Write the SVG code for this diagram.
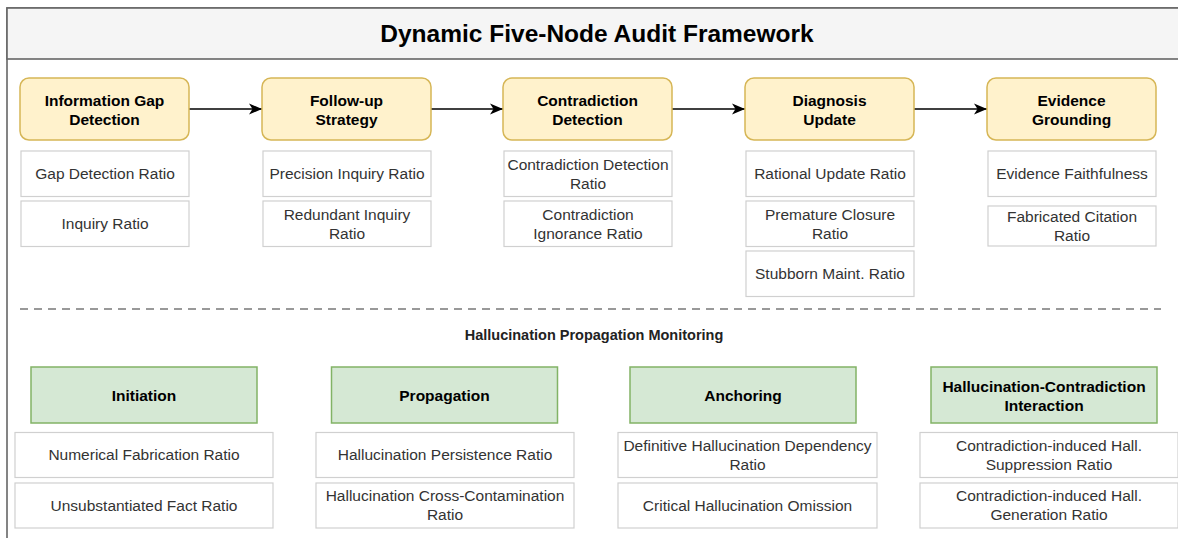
<svg xmlns="http://www.w3.org/2000/svg" width="1178" height="538" viewBox="0 0 1178 538">
<style>
text{font-family:"Liberation Sans",Arial,Helvetica,sans-serif;text-anchor:middle;dominant-baseline:central;}
.title{font-size:24.5px;font-weight:bold;fill:#000;}
.stage{fill:#fff2cc;stroke:#d6b656;stroke-width:1.5;}
.phase{fill:#d5e8d4;stroke:#82b366;stroke-width:1.5;}
.metric{fill:#fff;stroke:#d0d0d0;stroke-width:1.2;}
.bt{font-size:15.5px;font-weight:bold;fill:#000;}
.mt{font-size:15.5px;fill:#333;}
.sec{font-size:14.5px;font-weight:bold;fill:#222;}
.edge{stroke:#000;stroke-width:1.6;fill:none;}
</style>
<defs>
<marker id="arr" markerUnits="userSpaceOnUse" markerWidth="16" markerHeight="14" refX="13" refY="6" orient="auto">
<path d="M0,0.5 L13,6 L0,11.5 L3.5,6 z" fill="#000"/>
</marker>
</defs>
<rect width="1178" height="538" fill="#fff"/>
<g id="frame">
<rect x="7" y="8" width="1182" height="600" fill="#fff" stroke="#666" stroke-width="1.6"/>
<rect x="7" y="8" width="1182" height="51" fill="#f5f5f5" stroke="#666" stroke-width="1.6"/>
<text class="title" x="597" y="33.5">Dynamic Five-Node Audit Framework</text>
</g>
<g id="connectors">
<line class="edge" x1="189" y1="109" x2="262" y2="109" marker-end="url(#arr)"/>
<line class="edge" x1="431" y1="109" x2="503" y2="109" marker-end="url(#arr)"/>
<line class="edge" x1="672" y1="109" x2="745" y2="109" marker-end="url(#arr)"/>
<line class="edge" x1="914" y1="109" x2="987" y2="109" marker-end="url(#arr)"/>
</g>
<g id="node-gap">
<rect class="stage" x="20" y="78" width="169" height="62" rx="9"/>
<text class="bt" x="104.5" y="100">Information Gap</text>
<text class="bt" x="104.5" y="119">Detection</text>
<rect class="metric" x="21" y="151" width="168" height="45.5"/>
<text class="mt" x="105" y="173.5">Gap Detection Ratio</text>
<rect class="metric" x="21" y="201" width="168" height="45.5"/>
<text class="mt" x="105" y="223.5">Inquiry Ratio</text>
</g>
<g id="node-followup">
<rect class="stage" x="262" y="78" width="169" height="62" rx="9"/>
<text class="bt" x="346.5" y="100">Follow-up</text>
<text class="bt" x="346.5" y="119">Strategy</text>
<rect class="metric" x="263" y="151" width="168" height="45.5"/>
<text class="mt" x="347" y="173.5">Precision Inquiry Ratio</text>
<rect class="metric" x="263" y="201" width="168" height="45.5"/>
<text class="mt" x="347" y="214">Redundant Inquiry</text>
<text class="mt" x="347" y="233">Ratio</text>
</g>
<g id="node-contradiction">
<rect class="stage" x="503" y="78" width="169" height="62" rx="9"/>
<text class="bt" x="587.5" y="100">Contradiction</text>
<text class="bt" x="587.5" y="119">Detection</text>
<rect class="metric" x="504" y="151" width="168" height="45.5"/>
<text class="mt" x="588" y="164">Contradiction Detection</text>
<text class="mt" x="588" y="183">Ratio</text>
<rect class="metric" x="504" y="201" width="168" height="45.5"/>
<text class="mt" x="588" y="214">Contradiction</text>
<text class="mt" x="588" y="233">Ignorance Ratio</text>
</g>
<g id="node-diagnosis">
<rect class="stage" x="745" y="78" width="169" height="62" rx="9"/>
<text class="bt" x="829.5" y="100">Diagnosis</text>
<text class="bt" x="829.5" y="119">Update</text>
<rect class="metric" x="746" y="151" width="168" height="45.5"/>
<text class="mt" x="830" y="173.5">Rational Update Ratio</text>
<rect class="metric" x="746" y="201" width="168" height="45.5"/>
<text class="mt" x="830" y="214">Premature Closure</text>
<text class="mt" x="830" y="233">Ratio</text>
<rect class="metric" x="746" y="251" width="168" height="45.5"/>
<text class="mt" x="830" y="273.5">Stubborn Maint. Ratio</text>
</g>
<g id="node-evidence">
<rect class="stage" x="987" y="78" width="169" height="62" rx="9"/>
<text class="bt" x="1071.5" y="100">Evidence</text>
<text class="bt" x="1071.5" y="119">Grounding</text>
<rect class="metric" x="988" y="151" width="168" height="45.5"/>
<text class="mt" x="1072" y="173.5">Evidence Faithfulness</text>
<rect class="metric" x="988" y="206" width="168" height="40"/>
<text class="mt" x="1072" y="216.5">Fabricated Citation</text>
<text class="mt" x="1072" y="235.5">Ratio</text>
</g>
<g id="separator">
<line x1="20" y1="309" x2="1161" y2="309" stroke="#999" stroke-width="2" stroke-dasharray="8 6"/>
<text class="sec" x="594" y="334.5">Hallucination Propagation Monitoring</text>
</g>
<g id="node-initiation">
<rect class="phase" x="31" y="367" width="226" height="56"/>
<text class="bt" x="144" y="395">Initiation</text>
<rect class="metric" x="15" y="432.5" width="258" height="45"/>
<text class="mt" x="144" y="454.5">Numerical Fabrication Ratio</text>
<rect class="metric" x="15" y="483" width="258" height="45"/>
<text class="mt" x="144" y="505">Unsubstantiated Fact Ratio</text>
</g>
<g id="node-propagation">
<rect class="phase" x="331.5" y="367" width="226" height="56"/>
<text class="bt" x="444.5" y="395">Propagation</text>
<rect class="metric" x="316" y="432.5" width="258" height="45"/>
<text class="mt" x="445" y="454.5">Hallucination Persistence Ratio</text>
<rect class="metric" x="316" y="483" width="258" height="45"/>
<text class="mt" x="445" y="495.5">Hallucination Cross-Contamination</text>
<text class="mt" x="445" y="514.5">Ratio</text>
</g>
<g id="node-anchoring">
<rect class="phase" x="630" y="367" width="226" height="56"/>
<text class="bt" x="743" y="395">Anchoring</text>
<rect class="metric" x="618" y="432.5" width="259" height="45"/>
<text class="mt" x="747.5" y="445">Definitive Hallucination Dependency</text>
<text class="mt" x="747.5" y="464">Ratio</text>
<rect class="metric" x="618" y="483" width="259" height="45"/>
<text class="mt" x="747.5" y="505">Critical Hallucination Omission</text>
</g>
<g id="node-interaction">
<rect class="phase" x="931" y="367" width="226" height="56"/>
<text class="bt" x="1044" y="386">Hallucination-Contradiction</text>
<text class="bt" x="1044" y="405">Interaction</text>
<rect class="metric" x="920" y="432.5" width="258" height="45"/>
<text class="mt" x="1049" y="445">Contradiction-induced Hall.</text>
<text class="mt" x="1049" y="464">Suppression Ratio</text>
<rect class="metric" x="920" y="483" width="258" height="45"/>
<text class="mt" x="1049" y="495.5">Contradiction-induced Hall.</text>
<text class="mt" x="1049" y="514.5">Generation Ratio</text>
</g>
</svg>
